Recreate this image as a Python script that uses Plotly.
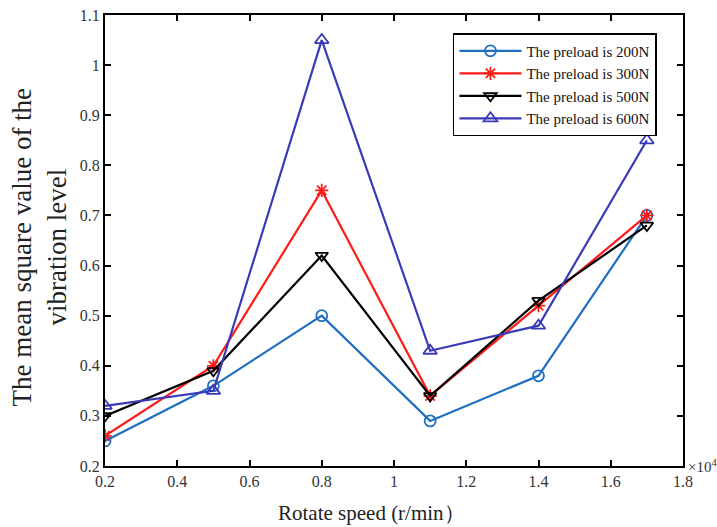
import plotly.graph_objects as go

speed = [0.2, 0.5, 0.8, 1.1, 1.4, 1.7]
names = ["The preload is 200N", "The preload is 300N", "The preload is 500N", "The preload is 600N"]
v200 = [0.25, 0.36, 0.50, 0.29, 0.38, 0.70]
v300 = [0.26, 0.40, 0.75, 0.34, 0.52, 0.70]
v500 = [0.30, 0.39, 0.62, 0.34, 0.53, 0.68]
v600 = [0.32, 0.35, 1.05, 0.43, 0.48, 0.85]
xticks = [0.2, 0.4, 0.6, 0.8, 1.0, 1.2, 1.4, 1.6, 1.8]
xticklabels = ["0.2", "0.4", "0.6", "0.8", "1", "1.2", "1.4", "1.6", "1.8"]
yticks = [0.2, 0.3, 0.4, 0.5, 0.6, 0.7, 0.8, 0.9, 1.0, 1.1]
yticklabels = ["0.2", "0.3", "0.4", "0.5", "0.6", "0.7", "0.8", "0.9", "1", "1.1"]
x_title = "Rotate speed (r/min）"
y_title = "The mean square value of the<br>vibration level"

series = [v200, v300, v500, v600]
colors = ["#1f6fc0", "#ff1a1a", "#000000", "#3a3ab8"]
symbols = ["circle-open", "asterisk-open", "triangle-down-open", "triangle-up-open"]
sizes = [11, 11, 11, 12]

fig = go.Figure()
for nm, ys, c, s, sz in zip(names, series, colors, symbols, sizes):
    fig.add_trace(go.Scatter(
        x=speed, y=ys, name=nm, mode="lines+markers",
        line=dict(color=c, width=2.2),
        marker=dict(symbol=s, size=sz, color=c, line=dict(color=c, width=1.8)),
    ))

axis_common = dict(
    showline=True, linecolor="black", linewidth=2.2, mirror="ticks",
    ticks="inside", ticklen=6, tickwidth=2, tickcolor="black",
    showgrid=False, zeroline=False, automargin=False,
    tickfont=dict(family="Liberation Serif", size=16, color="#333333"),
)
fig.update_layout(
    width=717, height=527,
    margin=dict(l=105, r=34, t=15, b=61, autoexpand=False),
    paper_bgcolor="white", plot_bgcolor="white",
    font=dict(family="Liberation Serif", color="#222222"),
    xaxis=dict(range=[0.2, 1.8], tickvals=xticks, ticktext=xticklabels, **axis_common),
    yaxis=dict(range=[0.2, 1.1], tickvals=yticks, ticktext=yticklabels, **axis_common),
    legend=dict(x=0.602, y=0.96, xanchor="left", yanchor="top",
                bgcolor="white", bordercolor="black", borderwidth=1.5,
                font=dict(family="Liberation Serif", size=15, color="#111111"),
                tracegroupgap=0, itemwidth=62),
    showlegend=True,
)
fig.add_annotation(text=y_title, xref="paper", yref="paper", x=0.0, y=0.5,
                   xanchor="center", yanchor="middle", xshift=-(105 - 39), yshift=-7,
                   textangle=-90, showarrow=False,
                   font=dict(family="Liberation Serif", size=27, color="#222222"))
fig.add_annotation(text=x_title, xref="paper", yref="paper", x=(371 - 105) / 578, y=0.0,
                   xanchor="center", yanchor="middle", yshift=-47, showarrow=False,
                   font=dict(family="Liberation Serif", size=21, color="#222222"))
fig.add_annotation(text="×10<sup>4</sup>", xref="paper", yref="paper", x=1.0, y=0.0,
                   xanchor="left", yanchor="middle", xshift=3, showarrow=False,
                   font=dict(family="Liberation Serif", size=15, color="#333333"))
fig.write_html("out.html", config={"displayModeBar": False},
               post_script=["document.body.style.margin='0';"])
